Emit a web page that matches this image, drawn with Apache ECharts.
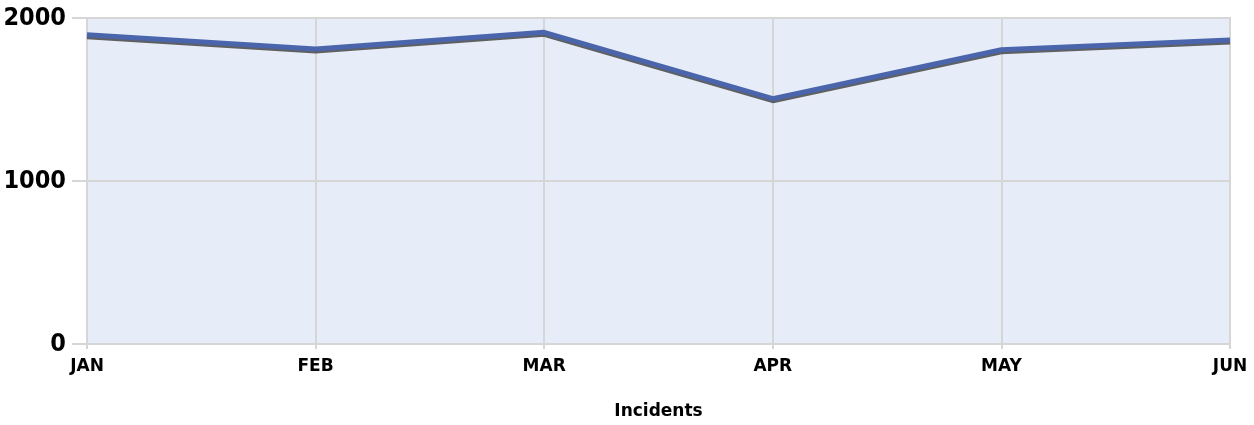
<!DOCTYPE html>
<html>
<head>
    <meta charset="utf-8">
    <title>Incidents</title>
    <script src="https://cdn.jsdelivr.net/npm/echarts@6/dist/echarts.min.js"></script>
</head>
<body style="margin: 0;height:100%;background:#fff;">
<div id="main" style="width: 1254px;height: 425px;"></div>
<script type="text/javascript">
    // data
    var months = ['JAN', 'FEB', 'MAR', 'APR', 'MAY', 'JUN'];
    var incidents = [1897, 1810, 1912, 1505, 1805, 1865];
    var yTicks = [0, 1000, 2000];

    var myChart = echarts.init(document.getElementById('main'));
    var gridColor = '#d6d6d6';
    var option = {
        animation: false,
        grid: {
            left: 87,
            right: 24,
            top: 18,
            bottom: 80,
            show: true,
            backgroundColor: '#e6edf9',
            borderColor: gridColor,
            borderWidth: 2
        },
        xAxis: {
            type: 'category',
            boundaryGap: false,
            data: months,
            name: 'Incidents',
            nameLocation: 'middle',
            nameGap: 59,
            nameTextStyle: {
                fontFamily: 'DejaVu Sans',
                fontWeight: 'bold',
                fontSize: 17,
                color: '#000'
            },
            axisLine: {lineStyle: {color: gridColor, width: 2}},
            axisTick: {show: true, length: 5, lineStyle: {color: gridColor, width: 2}},
            axisLabel: {
                fontFamily: 'DejaVu Sans',
                fontWeight: 'bold',
                fontSize: 17,
                color: '#000',
                margin: 14
            },
            splitLine: {show: true, lineStyle: {color: gridColor, width: 2}}
        },
        yAxis: {
            type: 'value',
            min: yTicks[0],
            max: yTicks[yTicks.length - 1],
            interval: yTicks[1] - yTicks[0],
            axisLine: {show: true, lineStyle: {color: gridColor, width: 2}},
            axisTick: {show: true, length: 15, lineStyle: {color: gridColor, width: 2}},
            axisLabel: {
                fontFamily: 'DejaVu Sans Condensed',
                fontWeight: 'bold',
                fontSize: 25,
                color: '#000',
                margin: 21,
                formatter: function (v) { return String(v); }
            },
            splitLine: {show: true, lineStyle: {color: gridColor, width: 2}}
        },
        series: [{
            type: 'line',
            data: incidents,
            showSymbol: false,
            lineStyle: {
                color: '#4a65ab',
                width: 5,
                shadowColor: 'rgba(70,70,70,0.85)',
                shadowOffsetY: 2,
                shadowBlur: 0
            }
        }]
    };
    myChart.setOption(option);
</script>
</body>
</html>
